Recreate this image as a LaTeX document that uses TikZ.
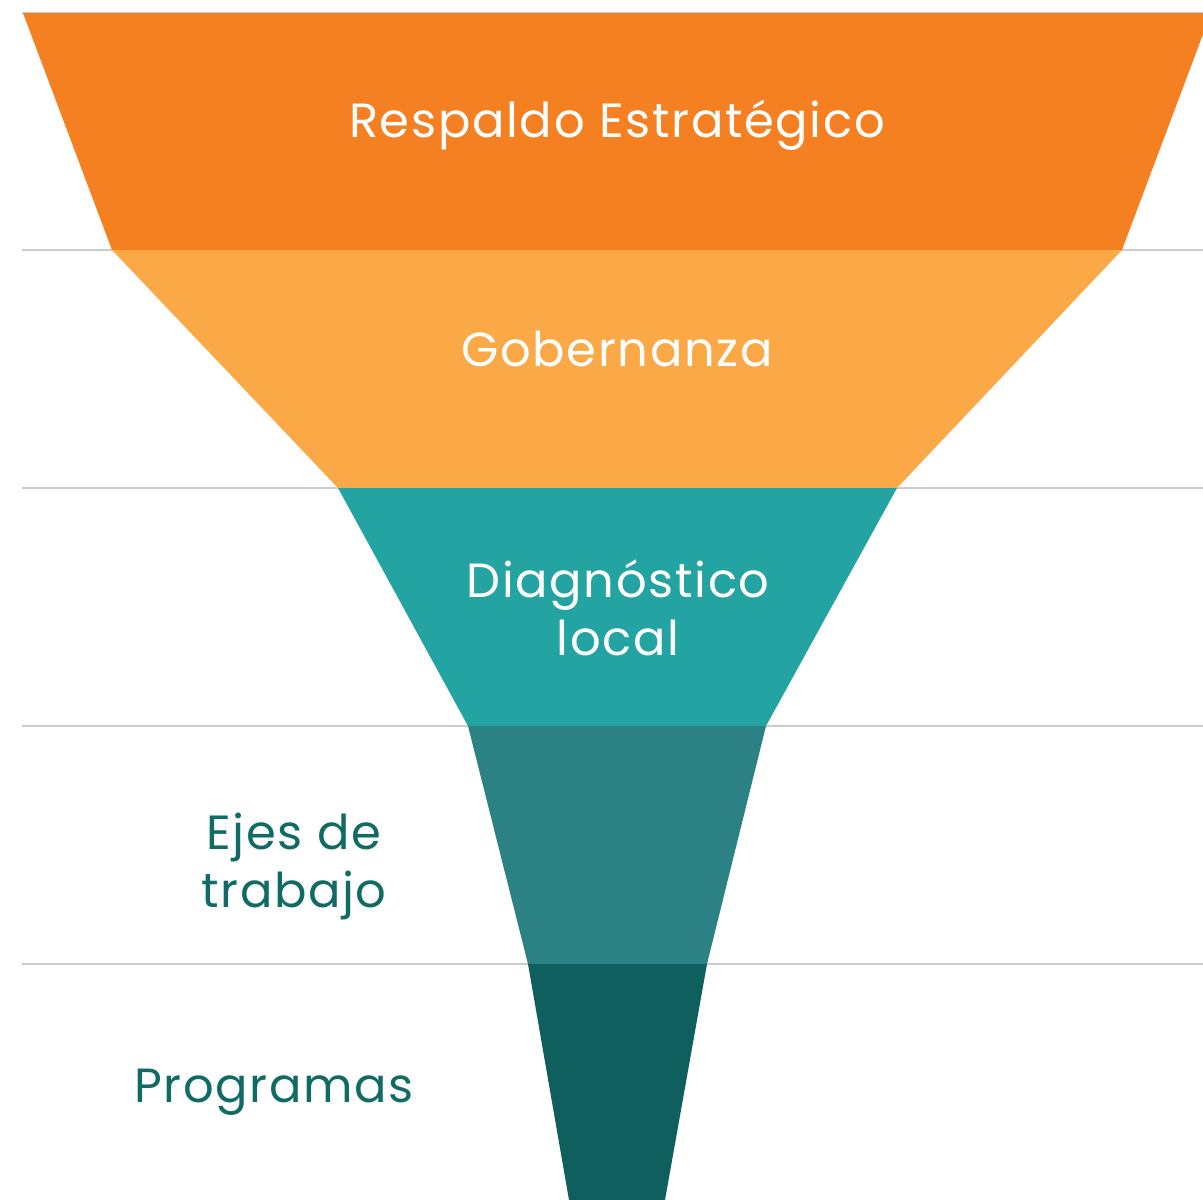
\documentclass[tikz,border=0pt]{standalone}
\usepackage{fontspec}
\setmainfont{Poppins}
\newfontfamily\lblfont[LetterSpace=3.5]{Poppins}
\definecolor{cOrange}{HTML}{F58022}
\definecolor{cLight}{HTML}{FBA846}
\definecolor{cTeal}{HTML}{23A3A1}
\definecolor{cMid}{HTML}{2C8184}
\definecolor{cDark}{HTML}{0F5F5F}
\definecolor{cText}{HTML}{0F6B63}
\definecolor{cGrid}{HTML}{CCCCCC}
\begin{document}
\begin{tikzpicture}[x=1pt,y=-1pt,
  grid/.style={draw=cGrid,line width=1.5pt},
  lbl/.style={font=\lblfont\fontsize{48}{58}\selectfont,inner sep=0pt,align=center},
  inlbl/.style={lbl,text=white},
  outlbl/.style={lbl,text=cText}]
\useasboundingbox (0,0) rectangle (1203,1200);
\begin{scope}
\clip (0,0) rectangle (1203,1200);
\foreach \yy in {13,250,488,726,964}
  \draw[grid] (22,\yy) -- (1203,\yy);
\fill[cOrange] (23,13) -- (1211,13) -- (1122,250) -- (112,250) -- cycle;
\fill[cLight] (112,250) -- (1122,250) -- (897,488) -- (338,488) -- cycle;
\fill[cTeal] (338,488) -- (897,488) -- (766,726) -- (468,726) -- cycle;
\fill[cMid] (468,726) -- (766,726) -- (707,964) -- (528,964) -- cycle;
\fill[cDark] (528,964) -- (707,964) -- (665,1200) -- (569,1200) -- cycle;
\end{scope}
\node[inlbl,anchor=base] (resp) at (617,137) {Respaldo Estratégico};
\node[inlbl,anchor=base] (gob) at (617,366) {Gobernanza};
\node[inlbl,anchor=base] (diag) at (618,655) {Diagnóstico\\local};
\node[outlbl,anchor=base] (ejes) at (294,907) {Ejes de\\trabajo};
\node[outlbl,anchor=base] (prog) at (274,1102) {Programas};
\end{tikzpicture}
\end{document}
